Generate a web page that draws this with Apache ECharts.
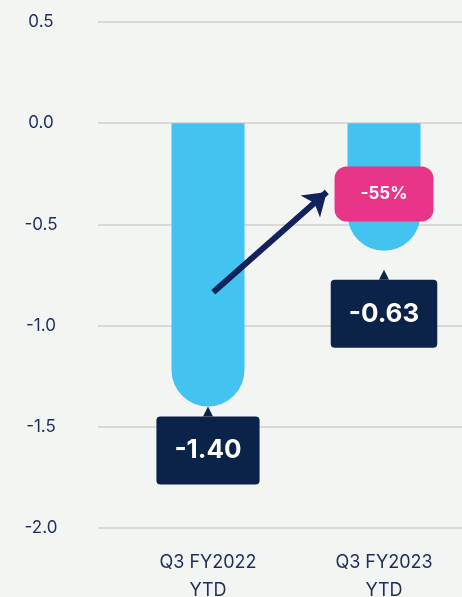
<!DOCTYPE html>
<html>
<head>
<meta charset="utf-8">
<script src="https://cdn.jsdelivr.net/npm/echarts@6/dist/echarts.min.js"></script>
<style>
  html, body { margin: 0; padding: 0; background: #f3f5f2; }
  #main { width: 462px; height: 597px; }
</style>
</head>
<body>
<div id="main"></div>
<script>
// 数据
var categories = ['Q3 FY2022\nYTD', 'Q3 FY2023\nYTD'];
var barValues = [-1.40, -0.63];
var yTicks = { min: -2.0, max: 0.5, interval: 0.5 };
// 注释：箭头和百分比框的位置（数据坐标，x: 0=第一根柱, 1=第二根柱）
var arrowFrom = [0.03, -0.835];
var arrowTo = [0.675, -0.34];
var changeBoxAt = [1, -0.35];
var labelGap = [10, 29];

var navy = '#0b2348';
var textColor = '#1f2c5c';

// 变化率
var change = Math.round((Math.abs(barValues[1]) - Math.abs(barValues[0])) / Math.abs(barValues[0]) * 100);

var myChart = echarts.init(document.getElementById('main'));

var barData = barValues.map(function (v, i) {
    return { value: v, label: { distance: labelGap[i] } };
});
var pointerData = barValues.map(function (v, i) {
    return { value: [i, v], symbolOffset: [0, labelGap[i] - 5] };
});

option = {
    backgroundColor: '#f3f5f2',
    textStyle: { fontFamily: 'Inter' },
    grid: [
        { left: 98, right: 0, top: 22, bottom: 69, outerBoundsMode: 'none' },
        { left: 120, width: 352, top: 22, bottom: 69, outerBoundsMode: 'none' }
    ],
    xAxis: [
        { gridIndex: 0, type: 'value', show: false },
        {
            gridIndex: 1,
            type: 'category',
            data: categories,
            axisLine: { show: false },
            axisTick: { show: false },
            axisLabel: {
                color: textColor,
                fontSize: 18,
                lineHeight: 28,
                margin: 21,
                fontFamily: 'Inter'
            }
        },
        { gridIndex: 1, type: 'value', min: -0.5, max: 1.5, show: false }
    ],
    yAxis: [
        {
            gridIndex: 0,
            type: 'value',
            min: yTicks.min,
            max: yTicks.max,
            interval: yTicks.interval,
            axisLine: { show: false },
            axisTick: { show: false },
            axisLabel: {
                color: textColor,
                fontSize: 17,
                align: 'center',
                margin: 57,
                fontFamily: 'Inter',
                formatter: function (v) { return v.toFixed(1); }
            },
            splitLine: { lineStyle: { color: '#d9d9d9', width: 2 } }
        },
        {
            gridIndex: 1,
            type: 'value',
            min: yTicks.min,
            max: yTicks.max,
            interval: yTicks.interval,
            show: false,
            splitLine: { show: false }
        }
    ],
    series: [
        {
            type: 'bar',
            xAxisIndex: 1,
            yAxisIndex: 1,
            barWidth: 73,
            itemStyle: { color: '#42c3f0', borderRadius: [0, 0, 36.5, 36.5] },
            label: {
                show: true,
                position: 'bottom',
                formatter: function (p) { return p.value.toFixed(2); },
                color: '#fff',
                fontSize: 26,
                fontWeight: 'bold',
                fontFamily: 'Inter',
                lineHeight: 26,
                padding: [21, 18, 21, 18],
                borderRadius: 4,
                backgroundColor: navy
            },
            data: barData,
            z: 2
        },
        {
            // 标签上方的小三角
            type: 'scatter',
            xAxisIndex: 2,
            yAxisIndex: 1,
            symbol: 'triangle',
            symbolSize: [10, 10],
            itemStyle: { color: navy, opacity: 1 },
            silent: true,
            data: pointerData,
            z: 3
        },
        {
            type: 'lines',
            coordinateSystem: 'cartesian2d',
            xAxisIndex: 2,
            yAxisIndex: 1,
            symbol: ['none', 'arrow'],
            symbolSize: 22,
            lineStyle: { color: '#14215a', width: 6, opacity: 1 },
            data: [{ coords: [arrowFrom, arrowTo] }],
            z: 3
        },
        {
            type: 'scatter',
            xAxisIndex: 2,
            yAxisIndex: 1,
            symbolSize: 1,
            silent: true,
            itemStyle: { color: 'transparent', opacity: 1 },
            label: {
                show: true,
                position: 'inside',
                formatter: change + '%',
                color: '#fff',
                fontSize: 17,
                fontWeight: 'bold',
                fontFamily: 'Inter',
                lineHeight: 17,
                padding: [19, 26, 19, 26],
                borderRadius: 12,
                backgroundColor: '#e83589'
            },
            data: [changeBoxAt],
            z: 4
        }
    ]
};
myChart.setOption(option);
</script>
</body>
</html>
